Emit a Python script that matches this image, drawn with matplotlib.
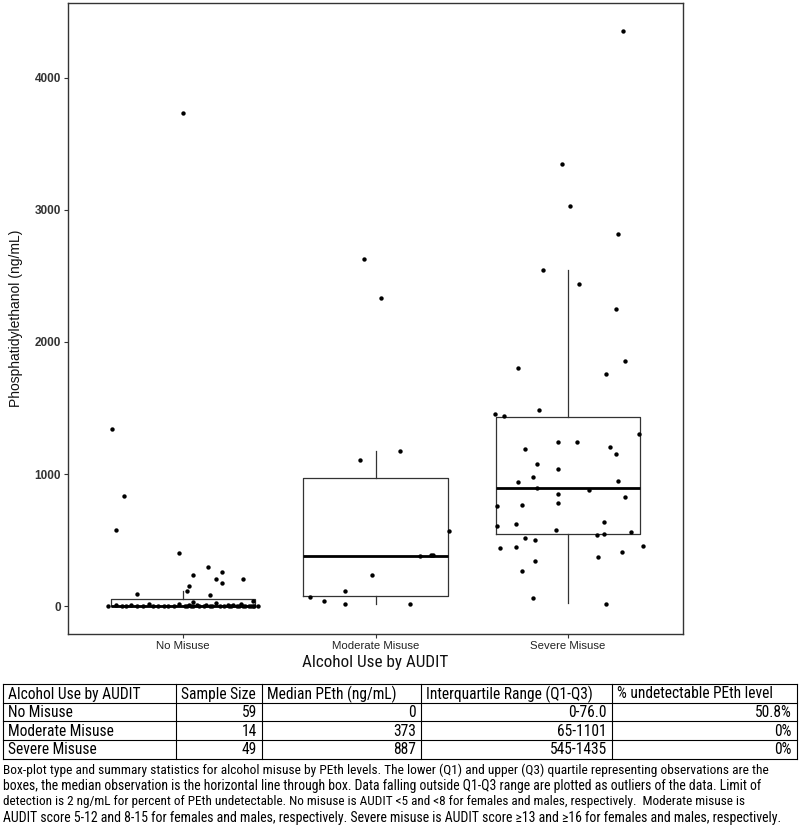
import matplotlib
matplotlib.use("Agg")
import matplotlib.pyplot as plt
from matplotlib import font_manager

# ---------------- data ----------------
categories = ["No Misuse", "Moderate Misuse", "Severe Misuse"]

# observations (ng/mL) and horizontal jitter (category units)
no_values = [3735, 1341, 833, 576, 402, 297, 258, 235, 205, 205, 174, 152, 114, 91, 83, 38, 30,
             0, 5, 0, 0, 8, 0, 0, 12, 0, 0, 3, 0, 0, 15, 0, 0, 6, 0, 0, 10, 0, 0, 4,
             0, 0, 20, 0, 0, 7, 0, 0, 9, 0, 0, 14, 0, 0, 0, 0, 0, 0, 0]
no_jitter = [0.00, -0.37, -0.31, -0.35, -0.02, 0.13, 0.20, 0.05, 0.17, 0.31, 0.20, 0.03, 0.02, -0.24, 0.14, 0.36, 0.05,
             -0.39, -0.35, -0.32, -0.30, -0.27, -0.24, -0.21, -0.18, -0.16, -0.13, -0.10, -0.08, -0.05, -0.02,
             0.01, 0.02, 0.03, 0.04, 0.05, 0.07, 0.08, 0.11, 0.12, 0.14, 0.15, 0.17, 0.19, 0.21, 0.23, 0.24,
             0.25, 0.26, 0.28, 0.29, 0.30, 0.31, 0.32, 0.34, 0.35, 0.36, 0.37, 0.39]

mod_values = [2629, 2333, 1174, 1106, 568, 379, 386, 386, 235, 114, 68, 38, 15, 15]
mod_jitter = [-0.06, 0.03, 0.13, -0.08, 0.38, 0.23, 0.29, 0.30, -0.02, -0.16, -0.34, -0.27, -0.16, 0.18]

sev_values = [4356, 3348, 3030, 2818, 2545, 2439, 2250, 1856, 1803, 1758, 1485, 1455, 1439, 1303,
              1242, 1242, 1189, 1204, 1152, 1076, 1038, 977, 939, 947, 894, 879, 848, 826, 780,
              758, 765, 636, 606, 621, 576, 538, 545, 561, 515, 500, 439, 447, 455, 409, 371,
              341, 265, 61, 15]
sev_jitter = [0.29, -0.03, 0.01, 0.26, -0.13, 0.06, 0.25, 0.30, -0.26, 0.20, -0.15, -0.38, -0.33, 0.37,
              -0.05, 0.05, -0.22, 0.22, 0.25, -0.16, -0.05, -0.18, -0.26, 0.26, -0.16, 0.11, -0.05, 0.30, -0.05,
              -0.37, -0.24, 0.19, -0.37, -0.27, -0.06, 0.15, 0.19, 0.33, -0.22, -0.17, -0.35, -0.27, 0.39, 0.28, 0.16,
              -0.17, -0.24, -0.18, 0.20]

# box statistics as drawn
box_q1 = [0, 76, 545]
box_med = [0, 379, 894]
box_q3 = [53, 970, 1432]
box_whislo = [0, 15, 23]
box_whishi = [114, 1174, 2545]

y_ticks = [0, 1000, 2000, 3000, 4000]

# summary table
table_header = ["Alcohol Use by AUDIT", "Sample Size", "Median PEth (ng/mL)",
                "Interquartile Range (Q1-Q3)", "% undetectable PEth level"]
sample_size = ["59", "14", "49"]
median_peth = ["0", "373", "887"]
iqr_text = ["0-76.0", "65-1101", "545-1435"]
pct_undetect = ["50.8%", "0%", "0%"]

caption_lines = [
    "Box-plot type and summary statistics for alcohol misuse by PEth levels. The lower (Q1) and upper (Q3) quartile representing observations are the",
    "boxes, the median observation is the horizontal line through box. Data falling outside Q1-Q3 range are plotted as outliers of the data. Limit of",
    "detection is 2 ng/mL for percent of PEth undetectable. No misuse is AUDIT <5 and <8 for females and males, respectively.  Moderate misuse is",
    "AUDIT score 5-12 and 8-15 for females and males, respectively. Severe misuse is AUDIT score \u226513 and \u226516 for females and males, respectively.",
]

# ---------------- fonts ----------------
names = {f.name for f in font_manager.fontManager.ttflist}
narrow = "Liberation Sans"
for cand in ["Liberation Sans Narrow", "Arial Narrow", "Roboto Condensed", "Open Sans Condensed"]:
    if cand in names:
        narrow = cand
        break
regular = ["Liberation Sans", "DejaVu Sans"]
plt.rcParams["font.family"] = regular

W, H = 800, 832
fig = plt.figure(figsize=(W / 100, H / 100), dpi=100)

# main axes (pixel layout: x 68..683, y 3..634)
ax = fig.add_axes([68 / W, 1 - 634 / H, (683 - 68) / W, (634 - 3) / H])

stats = []
for i in range(3):
    stats.append(dict(q1=box_q1[i], med=box_med[i], q3=box_q3[i],
                      whislo=box_whislo[i], whishi=box_whishi[i], fliers=[]))
ax.bxp(stats, positions=[1, 2, 3], widths=0.75, showcaps=False, showfliers=False,
       boxprops=dict(color="#333333", linewidth=0.9),
       whiskerprops=dict(color="#333333", linewidth=0.9),
       medianprops=dict(color="black", linewidth=2.0))

for pos, vals, jit in [(1, no_values, no_jitter), (2, mod_values, mod_jitter), (3, sev_values, sev_jitter)]:
    xs = [pos + j for j in jit]
    ax.scatter(xs, vals, s=10, color="black", zorder=3, linewidths=0)

ax.set_xlim(0.4, 3.6)
ax.set_ylim(-212, 4568)
ax.set_xticks([1, 2, 3])
ax.set_xticklabels(categories, fontsize=8.2, color="#222222", family=regular)
ax.set_yticks(y_ticks)
ax.set_yticklabels([str(v) for v in y_ticks], fontsize=8.5, fontweight="bold", color="#333333",
                   family=regular)
ax.tick_params(axis="both", length=3, width=0.8, color="#333333", pad=2)
for s in ax.spines.values():
    s.set_color("#333333")
    s.set_linewidth(1.0)
ax.set_ylabel("Phosphatidylethanol (ng/mL)", fontsize=10, color="#111111", labelpad=8,
              family=regular)
ax.set_xlabel("Alcohol Use by AUDIT", fontsize=12.3, color="#111111", labelpad=3,
              family=[narrow, "DejaVu Sans"])

# ---------------- table & caption (pixel overlay) ----------------
tax = fig.add_axes([0, 0, 1, 1], zorder=-1)
tax.set_xlim(0, W)
tax.set_ylim(H, 0)
tax.axis("off")

col_edges = [3, 176, 262, 421, 612, 797]
row_edges = [684, 703, 721, 740, 759]
for x in col_edges:
    tax.plot([x, x], [row_edges[0], row_edges[-1]], color="black", lw=0.8)
for y in row_edges:
    tax.plot([col_edges[0], col_edges[-1]], [y, y], color="black", lw=0.8)

tfs = 11.2
tfam = [narrow, "DejaVu Sans"]
for c, txt in enumerate(table_header):
    tax.text(col_edges[c] + 5, (row_edges[0] + row_edges[1]) / 2 + 0.5, txt, fontsize=tfs,
             family=tfam, va="center", ha="left")
columns = [sample_size, median_peth, iqr_text, pct_undetect]
for r in range(3):
    yc = (row_edges[r + 1] + row_edges[r + 2]) / 2 + 0.5
    tax.text(col_edges[0] + 5, yc, categories[r], fontsize=tfs, family=tfam, va="center", ha="left")
    for c, col in enumerate(columns):
        tax.text(col_edges[c + 2] - 5, yc, col[r], fontsize=tfs, family=tfam, va="center", ha="right")

# caption: shrink each line so it spans the same width as in the reference
cap_y = [770, 786, 802, 818]
cap_right = [763, 760, 741, 781]
renderer = fig.canvas.get_renderer()
for y, line, xr in zip(cap_y, caption_lines, cap_right):
    t = tax.text(3, y, line, fontsize=10.0, family=tfam, va="center", ha="left")
    w = t.get_window_extent(renderer=renderer).width
    t.set_fontsize(10.0 * (xr - 3) / w)

fig.savefig("out.png", dpi=100)
